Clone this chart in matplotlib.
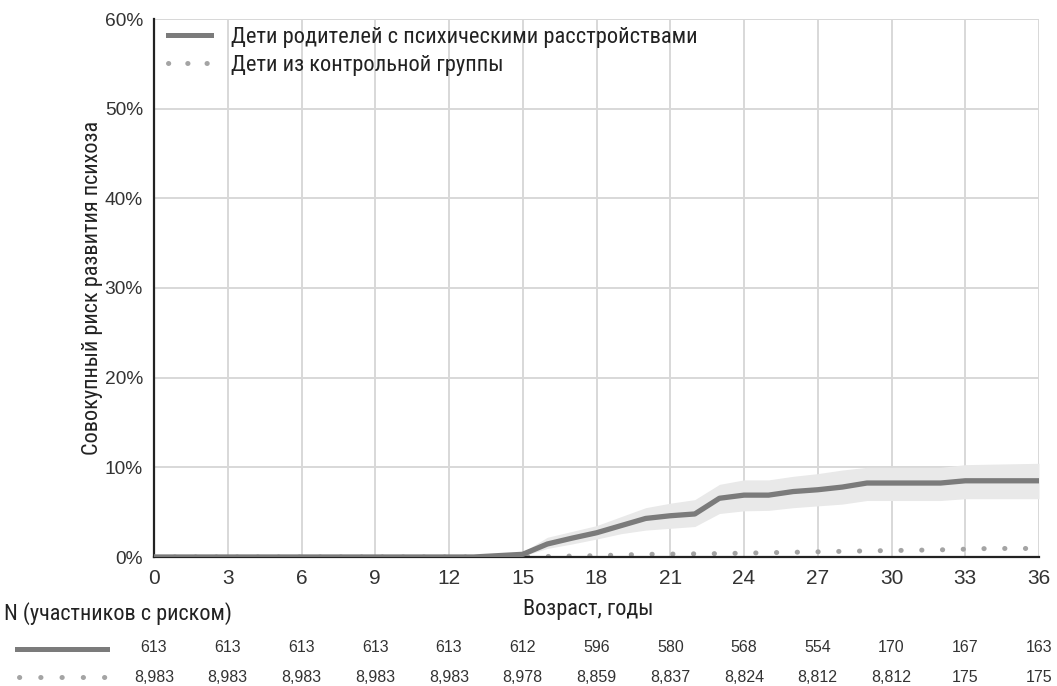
import matplotlib
matplotlib.use("Agg")
import matplotlib.pyplot as plt
from matplotlib import font_manager as fm
from matplotlib.lines import Line2D

# ---------------- data ----------------
ages_tick = [0, 3, 6, 9, 12, 15, 18, 21, 24, 27, 30, 33, 36]

risk_ages = [0, 13, 14, 15, 16, 17, 18, 19, 20, 21, 22, 23, 24, 25, 26, 27, 28, 29, 32, 33, 36]
risk_mid = [0.0, 0.0, 0.15, 0.3, 1.45, 2.1, 2.7, 3.5, 4.3, 4.6, 4.8, 6.55, 6.9, 6.9, 7.3, 7.5, 7.8, 8.25, 8.25, 8.5, 8.5]
risk_low = [0.0, 0.0, 0.05, 0.1, 0.95, 1.45, 2.0, 2.6, 3.0, 3.2, 3.4, 4.85, 5.15, 5.2, 5.5, 5.7, 5.9, 6.3, 6.3, 6.5, 6.5]
risk_high = [0.0, 0.0, 0.3, 0.55, 2.2, 2.85, 3.5, 4.5, 5.5, 6.0, 6.4, 8.1, 8.6, 8.6, 9.0, 9.3, 9.7, 10.0, 10.0, 10.3, 10.45]

ctrl_ages = [0, 13, 15, 18, 20, 23, 26, 29, 32, 34, 36]
ctrl_risk = [0.0, 0.0, 0.02, 0.15, 0.3, 0.38, 0.53, 0.68, 0.8, 0.95, 0.95]

n_risk_parents = ["613", "613", "613", "613", "613", "612", "596", "580", "568", "554", "170", "167", "163"]
n_risk_control = ["8,983", "8,983", "8,983", "8,983", "8,983", "8,978", "8,859", "8,837", "8,824", "8,812", "8,812", "175", "175"]

label_parents = "Дети родителей с психическими расстройствами"
label_control = "Дети из контрольной группы"
ylabel = "Совокупный риск развития психоза"
xlabel = "Возраст, годы"
table_title = "N (участников с риском)"

# ---------------- fonts ----------------
available = {f.name for f in fm.fontManager.ttflist}
cond_font = "Roboto"
for cand in ["Roboto Condensed", "Liberation Sans Narrow", "Open Sans Condensed", "Roboto"]:
    if cand in available:
        cond_font = cand
        break
num_font = "Liberation Sans" if "Liberation Sans" in available else "DejaVu Sans"

W, H = 1057, 686
fig = plt.figure(figsize=(W / 100, H / 100), dpi=100)
ax = fig.add_axes([154 / W, 1 - 557 / H, (1039 - 154) / W, (557 - 19) / H])

line_col = "#7b7b7b"
dot_col = "#a4a4a4"
band_col = "#e9e9e9"
grid_col = "#d8d8d8"
DOT_LW = 3.6
DOTS = (0, (0.05, 4.1))

ax.fill_between(risk_ages, risk_low, risk_high, color=band_col, lw=0, zorder=2)
ax.plot(ctrl_ages, ctrl_risk, color=dot_col, lw=DOT_LW, linestyle=DOTS,
        dash_capstyle="round", zorder=3)
ax.plot(risk_ages, risk_mid, color=line_col, lw=3.8, solid_capstyle="butt", zorder=4)

ax.set_xlim(0, 36)
ax.set_ylim(0, 60)
ax.set_xticks(ages_tick)
ax.set_xticklabels([str(a) for a in ages_tick], fontfamily=num_font, fontsize=15, color="#333333")
yt = [0, 10, 20, 30, 40, 50, 60]
ax.set_yticks(yt)
ax.set_yticklabels([f"{v}%" for v in yt], fontfamily=num_font, fontsize=13.8, color="#333333")
ax.tick_params(axis="both", length=0)
ax.tick_params(axis="x", pad=9)
ax.tick_params(axis="y", pad=8)
ax.grid(True, color=grid_col, lw=1.4, zorder=0)
ax.set_axisbelow(True)
for s in ["top", "right"]:
    ax.spines[s].set_visible(False)
ax.spines["left"].set_color("#222222")
ax.spines["left"].set_linewidth(1.6)
ax.spines["bottom"].set_color("#222222")
ax.spines["bottom"].set_linewidth(1.6)
ax.spines["bottom"].set_zorder(3.5)
ax.axhline(60, color=grid_col, lw=1.4, zorder=0)

ax.set_ylabel(ylabel, fontfamily=cond_font, fontsize=16, color="#222222", labelpad=1)

handles = [
    Line2D([], [], color=line_col, lw=3.6),
    Line2D([], [], color=dot_col, lw=DOT_LW, linestyle=(0, (0.05, 3.8)), dash_capstyle="round"),
]
leg = ax.legend(handles, [label_parents, label_control], loc="upper left",
                bbox_to_anchor=(14 / 885, 1 - 8 / 538), frameon=False,
                prop={"family": cond_font, "size": 16.2},
                handlelength=1.9, handletextpad=0.9, labelspacing=0.3,
                borderaxespad=0, borderpad=0)
for t in leg.get_texts():
    t.set_color("#222222")

fig.text(588 / W, 1 - 609 / H, xlabel, ha="center", va="center",
         fontfamily=cond_font, fontsize=16, color="#222222")
fig.text(4 / W, 1 - 614 / H, table_title, ha="left", va="center",
         fontfamily=cond_font, fontsize=16, color="#222222")

# risk table: numbers aligned with the x-axis ticks
tr = matplotlib.transforms.blended_transform_factory(ax.transData, fig.transFigure)
for a, n1, n2 in zip(ages_tick, n_risk_parents, n_risk_control):
    ax.text(a, 1 - 648 / H, n1, transform=tr, ha="center", va="center",
            fontfamily=num_font, fontsize=11.5, color="#333333", clip_on=False)
    ax.text(a, 1 - 677 / H, n2, transform=tr, ha="center", va="center",
            fontfamily=num_font, fontsize=11.5, color="#333333", clip_on=False)

# table line samples
fig.add_artist(Line2D([17 / W, 107 / W], [1 - 649 / H, 1 - 649 / H], color=line_col, lw=3.6))
fig.add_artist(Line2D([19 / W, 106 / W], [1 - 677 / H, 1 - 677 / H], color=dot_col, lw=DOT_LW,
                      linestyle=(0, (0.05, 4.2)), dash_capstyle="round"))

fig.savefig("out.png", dpi=100)
